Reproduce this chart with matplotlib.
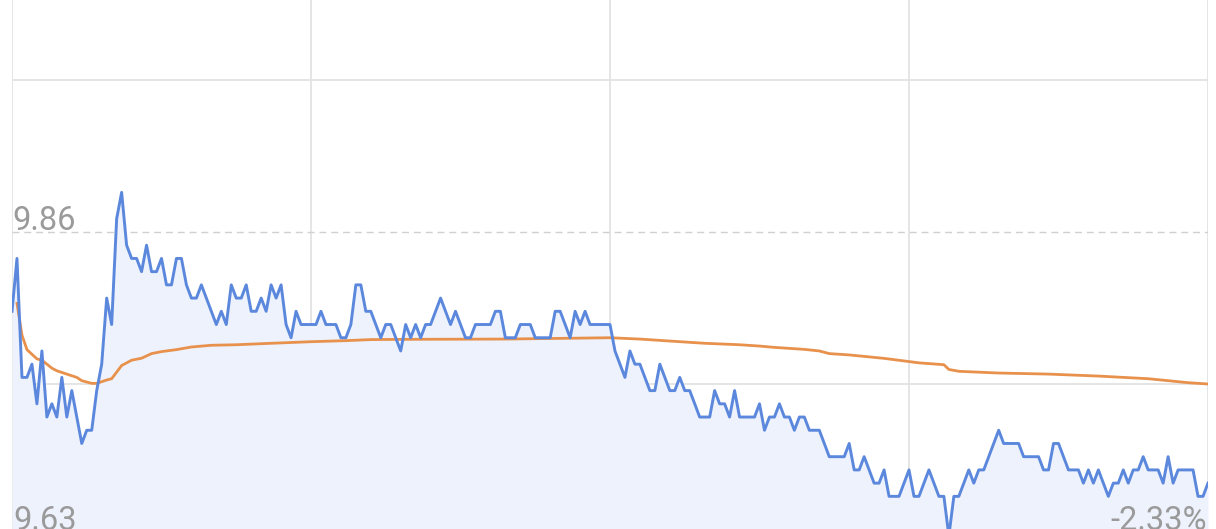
import numpy as np
import matplotlib.pyplot as plt

# 分时数据 (每分钟价格, 241 点: 9:30-11:30, 13:00-15:00)
prices = [
    9.80, 9.84, 9.75, 9.75, 9.76, 9.73, 9.77, 9.72, 9.73, 9.72,
    9.75, 9.72, 9.74, 9.72, 9.70, 9.71, 9.71, 9.74, 9.76, 9.81,
    9.79, 9.87, 9.89, 9.85, 9.84, 9.84, 9.83, 9.85, 9.83, 9.83,
    9.84, 9.82, 9.82, 9.84, 9.84, 9.82, 9.81, 9.81, 9.82, 9.81,
    9.80, 9.79, 9.80, 9.79, 9.82, 9.81, 9.81, 9.82, 9.80, 9.80,
    9.81, 9.80, 9.82, 9.81, 9.82, 9.79, 9.78, 9.80, 9.79, 9.79,
    9.79, 9.79, 9.80, 9.79, 9.79, 9.79, 9.78, 9.78, 9.79, 9.82,
    9.82, 9.80, 9.80, 9.79, 9.78, 9.79, 9.79, 9.78, 9.77, 9.79,
    9.78, 9.79, 9.78, 9.79, 9.79, 9.80, 9.81, 9.80, 9.79, 9.80,
    9.79, 9.78, 9.78, 9.79, 9.79, 9.79, 9.79, 9.80, 9.80, 9.78,
    9.78, 9.78, 9.79, 9.79, 9.79, 9.78, 9.78, 9.78, 9.78, 9.80,
    9.80, 9.79, 9.78, 9.80, 9.79, 9.80, 9.79, 9.79, 9.79, 9.79,
    9.79, 9.77, 9.76, 9.75, 9.77, 9.76, 9.76, 9.75, 9.74, 9.74,
    9.76, 9.75, 9.74, 9.74, 9.75, 9.74, 9.74, 9.73, 9.72, 9.72,
    9.72, 9.74, 9.73, 9.73, 9.72, 9.74, 9.72, 9.72, 9.72, 9.72,
    9.73, 9.71, 9.72, 9.72, 9.73, 9.72, 9.72, 9.71, 9.72, 9.72,
    9.71, 9.71, 9.71, 9.70, 9.69, 9.69, 9.69, 9.69, 9.70, 9.68,
    9.68, 9.69, 9.68, 9.67, 9.67, 9.68, 9.66, 9.66, 9.66, 9.67,
    9.68, 9.66, 9.66, 9.67, 9.68, 9.67, 9.66, 9.66, 9.63, 9.66,
    9.66, 9.67, 9.68, 9.67, 9.68, 9.68, 9.69, 9.70, 9.71, 9.70,
    9.70, 9.70, 9.70, 9.69, 9.69, 9.69, 9.69, 9.68, 9.68, 9.70,
    9.70, 9.69, 9.68, 9.68, 9.68, 9.67, 9.68, 9.67, 9.68, 9.67,
    9.66, 9.67, 9.67, 9.68, 9.67, 9.68, 9.68, 9.69, 9.68, 9.68,
    9.68, 9.67, 9.69, 9.67, 9.68, 9.68, 9.68, 9.68, 9.66, 9.66,
    9.67,
]
minutes = np.arange(len(prices))

# 均价线 (读取的分钟位置与数值)
avg_min = [1, 2, 3, 5, 6, 8, 9, 11, 13, 14, 16, 17, 19, 20, 21, 22, 24, 26,
           28, 30, 33, 36, 40, 45, 52, 60, 67, 72, 79, 99, 120, 126, 132, 139,
           146, 150, 153, 159, 162, 164, 168, 175, 182, 187, 188, 190, 198,
           208, 218, 228, 236, 240]
avg_val = [9.806, 9.782, 9.771, 9.764, 9.763, 9.757, 9.755, 9.7525, 9.750,
           9.7475, 9.7455, 9.7455, 9.748, 9.749, 9.754, 9.759, 9.763, 9.7645,
           9.768, 9.7695, 9.771, 9.773, 9.7743, 9.7747, 9.7758, 9.777, 9.7778,
           9.7786, 9.7788, 9.779, 9.780, 9.779, 9.7775, 9.7758, 9.7747,
           9.7737, 9.7727, 9.7712, 9.770, 9.768, 9.767, 9.7644, 9.761, 9.7596,
           9.756, 9.7546, 9.7533, 9.7525, 9.751, 9.749, 9.746, 9.745]

prev_close = 9.86
low_label = '9.63'
pct_label = '-2.33%'
y_lo, y_hi = 9.63, 10.09

fig = plt.figure(figsize=(12.16, 5.29), dpi=100)
# 图表上下被截掉一部分, 所以坐标轴超出画布
ax = fig.add_axes([12 / 1216, -7 / 529, 1196 / 1216, 608 / 529])
ax.set_xlim(0, 240)
ax.set_ylim(y_lo, y_hi)
ax.axis('off')

# 网格
grid_c = '#e3e3e3'
for v in [0, 60, 120, 180, 240]:
    ax.axvline(v, color=grid_c, lw=1.3, zorder=1)
step = (y_hi - y_lo) / 4
for k in [1, 3]:
    ax.axhline(y_lo + k * step, color=grid_c, lw=1.3, zorder=1)
ax.axhline(prev_close, color='#d0d0d0', lw=1.0, ls=(0, (5, 3.5)), zorder=1)

# 价格与均价
ax.fill_between(minutes, prices, 9.55, color='#edf2fd', lw=0, zorder=2)
ax.plot(avg_min, avg_val, color='#e8914c', lw=2.0, zorder=3)
ax.plot(minutes, prices, color='#5b88dc', lw=2.1, zorder=4)

# 文字
txt = dict(fontfamily='Roboto', fontsize=23.5, color='#9a9a9a', va='baseline')
ax.annotate(f'{prev_close:.2f}', xy=(0, prev_close), xytext=(0.5, 1.5),
            textcoords='offset points', ha='left', **txt)
ax.annotate(low_label, xy=(0, y_lo), xytext=(1, 4.3),
            textcoords='offset points', ha='left', **txt)
ax.annotate(pct_label, xy=(240, y_lo), xytext=(-1, 4.3),
            textcoords='offset points', ha='right', **txt)

fig.savefig('out.png', dpi=100)
